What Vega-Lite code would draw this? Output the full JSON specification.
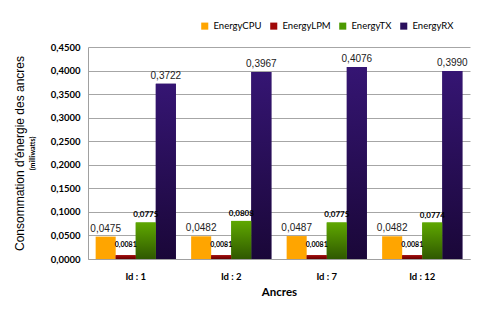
{
  "$schema": "https://vega.github.io/schema/vega-lite/v6.json",
  "width": 382,
  "height": 212,
  "autosize": "none",
  "padding": {"left": 88, "top": 47, "right": 10, "bottom": 56},
  "background": "white",
  "data": {
    "values": [
      {"anchor": "Id : 1", "series": "EnergyCPU", "value": 0.0475},
      {"anchor": "Id : 1", "series": "EnergyLPM", "value": 0.0081},
      {"anchor": "Id : 1", "series": "EnergyTX", "value": 0.0775},
      {"anchor": "Id : 1", "series": "EnergyRX", "value": 0.3722},
      {"anchor": "Id : 2", "series": "EnergyCPU", "value": 0.0482},
      {"anchor": "Id : 2", "series": "EnergyLPM", "value": 0.0081},
      {"anchor": "Id : 2", "series": "EnergyTX", "value": 0.0808},
      {"anchor": "Id : 2", "series": "EnergyRX", "value": 0.3967},
      {"anchor": "Id : 7", "series": "EnergyCPU", "value": 0.0487},
      {"anchor": "Id : 7", "series": "EnergyLPM", "value": 0.0081},
      {"anchor": "Id : 7", "series": "EnergyTX", "value": 0.0775},
      {"anchor": "Id : 7", "series": "EnergyRX", "value": 0.4076},
      {"anchor": "Id : 12", "series": "EnergyCPU", "value": 0.0482},
      {"anchor": "Id : 12", "series": "EnergyLPM", "value": 0.0081},
      {"anchor": "Id : 12", "series": "EnergyTX", "value": 0.0774},
      {"anchor": "Id : 12", "series": "EnergyRX", "value": 0.399}
    ]
  },
  "encoding": {
    "x": {
      "field": "anchor", "type": "nominal",
      "sort": ["Id : 1", "Id : 2", "Id : 7", "Id : 12"],
      "scale": {"paddingInner": 0.16, "paddingOuter": 0.08},
      "axis": {
        "title": "Ancres", "labelAngle": 0, "ticks": false, "domainColor": "#a0a0a0",
        "labelFont": "Lato", "labelFontWeight": "bold", "labelFontSize": 9.5, "labelColor": "#000",
        "labelPadding": 12, "titleFont": "Lato", "titleFontWeight": "bold", "titleFontSize": 11.5,
        "titleColor": "#000", "titlePadding": 6
      }
    },
    "xOffset": {"field": "series", "type": "nominal", "sort": ["EnergyCPU", "EnergyLPM", "EnergyTX", "EnergyRX"]},
    "y": {
      "field": "value", "type": "quantitative",
      "scale": {"domain": [0, 0.45], "nice": false}
    }
  },
  "layer": [
    {
      "mark": {"type": "bar"},
      "encoding": {
        "y": {
          "field": "value", "type": "quantitative",
          "axis": {
            "orient": "left",
            "values": [0, 0.05, 0.1, 0.15, 0.2, 0.25, 0.3, 0.35, 0.4, 0.45],
            "format": ".4f", "ticks": false, "domainColor": "#a0a0a0",
            "gridColor": "#a6a6a6", "grid": true,
            "labelFont": "Lato", "labelFontWeight": "bold", "labelFontSize": 9.5, "labelColor": "#000",
            "labelPadding": 8,
            "title": "(milliwatts)", "titleAngle": 270, "titleFont": "Lato", "titleFontWeight": "bold", "titleFontSize": 7,
            "titleColor": "#000", "titlePadding": 15
          }
        },
        "color": {
          "field": "series", "type": "nominal",
          "scale": {
            "domain": ["EnergyCPU", "EnergyLPM", "EnergyTX", "EnergyRX"],
            "range": ["#ffa500", "#a00808", "#4c9a00", "#2a0f5c"]
          },
          "legend": {
            "title": null, "orient": "none", "direction": "horizontal", "legendX": 112, "legendY": -26,
            "symbolType": "square", "symbolSize": 50, "symbolStrokeWidth": 0,
            "labelFont": "Lato", "labelFontSize": 9.5, "labelColor": "#000", "columnPadding": 7, "labelOffset": 4
          }
        }
      }
    },
    {
      "transform": [{"filter": "datum.series === 'EnergyRX'"}],
      "mark": {"type": "bar", "fill": {"gradient": "linear", "x1": 0, "y1": 0, "x2": 0, "y2": 1, "stops": [{"offset": 0, "color": "#351573"}, {"offset": 1, "color": "#1a0738"}]}},
      "encoding": {"y": {"field": "value", "type": "quantitative", "axis": null}}
    },
    {
      "transform": [{"filter": "datum.series === 'EnergyTX'"}],
      "mark": {"type": "bar", "fill": {"gradient": "linear", "x1": 0, "y1": 0, "x2": 0, "y2": 1, "stops": [{"offset": 0, "color": "#5fa800"}, {"offset": 1, "color": "#2f5800"}]}},
      "encoding": {"y": {"field": "value", "type": "quantitative", "axis": null}}
    },
    {
      "transform": [{"filter": "datum.series === 'EnergyLPM'"}],
      "mark": {"type": "bar", "fill": {"gradient": "linear", "x1": 0, "y1": 0, "x2": 0, "y2": 1, "stops": [{"offset": 0, "color": "#a00d0d"}, {"offset": 1, "color": "#6a0000"}]}},
      "encoding": {"y": {"field": "value", "type": "quantitative", "axis": null}}
    },
    {
      "transform": [{"filter": "datum.series === 'EnergyCPU' || datum.series === 'EnergyRX'"}],
      "mark": {"type": "text", "baseline": "bottom", "dy": -3, "font": "Liberation Sans", "fontSize": 10, "color": "#222"},
      "encoding": {
        "y": {"field": "value", "type": "quantitative", "axis": null},
        "text": {"field": "value", "type": "quantitative", "format": ".4f"}
      }
    },
    {
      "transform": [{"filter": "datum.series === 'EnergyTX'"}],
      "mark": {"type": "text", "baseline": "bottom", "dy": -3, "font": "Lato", "fontWeight": "bold", "fontSize": 8, "color": "#000"},
      "encoding": {
        "y": {"field": "value", "type": "quantitative", "axis": null},
        "text": {"field": "value", "type": "quantitative", "format": ".4f"}
      }
    },
    {
      "transform": [{"filter": "datum.series === 'EnergyLPM'"}],
      "mark": {"type": "text", "baseline": "bottom", "dy": -7, "font": "Lato", "fontWeight": "bold", "fontSize": 7, "color": "#000"},
      "encoding": {
        "y": {"field": "value", "type": "quantitative", "axis": null},
        "text": {"field": "value", "type": "quantitative", "format": ".4f"}
      }
    },
    {
      "mark": {"type": "text", "opacity": 0},
      "encoding": {
        "y": {
          "field": "value", "type": "quantitative",
          "axis": {
            "orient": "left", "labels": false, "ticks": false, "domain": false, "grid": false,
            "title": "Consommation d'énergie des ancres", "titleAngle": 270, "titleFont": "Liberation Sans",
            "titleFontWeight": "normal", "titleFontSize": 12, "titleColor": "#000", "titlePadding": 62
          }
        },
        "text": {"value": ""}
      }
    }
  ],
  "resolve": {"axis": {"y": "independent"}},
  "config": {
    "locale": {"number": {"decimal": ",", "thousands": " ", "grouping": [3], "currency": ["", " €"]}},
    "view": {"stroke": null}
  }
}
